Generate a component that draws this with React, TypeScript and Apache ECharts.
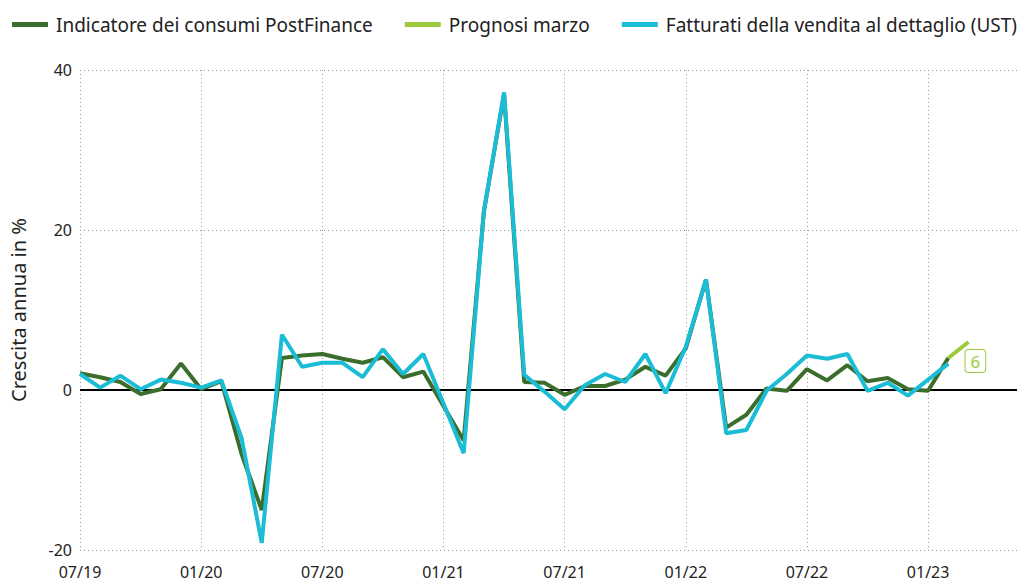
import React, { useEffect, useRef } from "react";
import * as echarts from "echarts";

// Month labels, index 0 = 07/19
const months: string[] = [
  "07/19", "08/19", "09/19", "10/19", "11/19", "12/19",
  "01/20", "02/20", "03/20", "04/20", "05/20", "06/20",
  "07/20", "08/20", "09/20", "10/20", "11/20", "12/20",
  "01/21", "02/21", "03/21", "04/21", "05/21", "06/21",
  "07/21", "08/21", "09/21", "10/21", "11/21", "12/21",
  "01/22", "02/22", "03/22", "04/22", "05/22", "06/22",
  "07/22", "08/22", "09/22", "10/22", "11/22", "12/22",
  "01/23", "02/23", "03/23",
];

const postFinance: number[] = [
  2.1, 1.6, 1.0, -0.5, 0.1, 3.3, 0.1, 1.1, -8.0, -15.0, 4.0, 4.3,
  4.5, 3.9, 3.4, 4.1, 1.6, 2.3, -2.0, -6.3, 22.3, 37.0, 1.0, 0.9,
  -0.6, 0.5, 0.5, 1.3, 2.9, 1.8, 5.2, 13.8, -4.7, -3.1, 0.2, -0.1,
  2.6, 1.2, 3.1, 1.1, 1.5, 0.1, -0.1, 4.0,
];

const ust: number[] = [
  2.0, 0.3, 1.8, 0.1, 1.3, 0.9, 0.3, 1.2, -6.0, -19.1, 6.9, 2.9,
  3.4, 3.4, 1.6, 5.1, 2.0, 4.5, -1.7, -7.9, 22.3, 37.2, 1.9, -0.2,
  -2.4, 0.6, 2.0, 1.0, 4.5, -0.4, 5.4, 13.8, -5.4, -5.0, -0.1, 2.0,
  4.3, 3.9, 4.5, -0.1, 0.9, -0.7, 1.3, 3.3,
];

// Forecast: starts at last indicator value (02/23), ends at March forecast
const forecastStart = 43;
const forecast: number[] = [4.0, 6];

const yTicks = { min: -20, max: 40, interval: 20 };
const xMax = 46.65;

const DARK_GREEN = "#3b6e2c";
const LIGHT_GREEN = "#9dcb3d";
const CYAN = "#1abcd6";
const FONT = "Noto Sans";

function monthLabel(idx: number): string {
  const m0 = 6 + Math.round(idx);
  const year = 19 + Math.floor(m0 / 12);
  const month = (m0 % 12) + 1;
  return `${String(month).padStart(2, "0")}/${year}`;
}

export default function App() {
  const ref = useRef<HTMLDivElement>(null);

  useEffect(() => {
    if (!ref.current) return;
    const chart = echarts.init(ref.current, undefined, { renderer: "svg" });
    const toPairs = (arr: number[], start = 0) => arr.map((v, i) => [start + i, v]);

    chart.setOption({
      animation: false,
      textStyle: { fontFamily: FONT },
      legend: {
        left: 7,
        top: 10,
        icon: "rect",
        itemWidth: 36,
        itemHeight: 5,
        itemGap: 32,
        textStyle: { fontFamily: FONT, fontSize: 19, color: "#222", padding: [0, 0, 0, 3] },
        data: [
          "Indicatore dei consumi PostFinance",
          "Prognosi marzo",
          "Fatturati della vendita al dettaglio (UST)",
        ],
      },
      grid: { left: 80, right: 3, top: 70, bottom: 36, containLabel: false },
      xAxis: {
        type: "value",
        min: 0,
        max: xMax,
        interval: 6,
        axisLine: { show: false },
        axisTick: {
          show: true,
          length: 16,
          lineStyle: { color: "#999", type: [1, 3], width: 1 },
        },
        axisLabel: {
          fontFamily: FONT,
          fontSize: 16,
          color: "#222",
          margin: 14,
          showMaxLabel: false,
          formatter: (v: number) => (Math.abs(v % 6) < 1e-6 ? (months[v] ?? monthLabel(v)) : ""),
        },
        splitLine: {
          show: true,
          showMaxLine: false,
          lineStyle: { color: "#999", type: [1, 3], width: 1 },
        },
      },
      yAxis: {
        type: "value",
        min: yTicks.min,
        max: yTicks.max,
        interval: yTicks.interval,
        name: "Crescita annua in %",
        nameLocation: "middle",
        nameGap: 52,
        nameTextStyle: { fontFamily: FONT, fontSize: 20, color: "#222" },
        axisLine: { show: false },
        axisTick: { show: false },
        axisLabel: { fontFamily: FONT, fontSize: 16, color: "#222", margin: 8 },
        splitLine: { show: true, lineStyle: { color: "#999", type: [1, 3], width: 1 } },
      },
      series: [
        {
          name: "Indicatore dei consumi PostFinance",
          type: "line",
          data: toPairs(postFinance),
          showSymbol: false,
          symbol: "none",
          color: DARK_GREEN,
          lineStyle: { color: DARK_GREEN, width: 4 },
          z: 3,
          markLine: {
            silent: true,
            symbol: "none",
            label: { show: false },
            lineStyle: { color: "#000", type: "solid", width: 2 },
            data: [{ yAxis: 0 }],
            z: 1,
          },
        },
        {
          name: "Prognosi marzo",
          type: "line",
          data: toPairs(forecast, forecastStart),
          showSymbol: false,
          symbol: "none",
          color: LIGHT_GREEN,
          lineStyle: { color: LIGHT_GREEN, width: 4 },
          z: 4,
          endLabel: {
            show: true,
            formatter: (p: any) => String(p.value[1]),
            fontFamily: FONT,
            fontSize: 17,
            color: LIGHT_GREEN,
            backgroundColor: "#fff",
            borderColor: LIGHT_GREEN,
            borderWidth: 1,
            borderRadius: 3,
            padding: [3, 5, 2, 5],
            distance: 0,
            offset: [-3, 19],
          },
        },
        {
          name: "Fatturati della vendita al dettaglio (UST)",
          type: "line",
          data: toPairs(ust),
          showSymbol: false,
          symbol: "none",
          color: CYAN,
          lineStyle: { color: CYAN, width: 4 },
          z: 5,
        },
      ],
    });

    return () => chart.dispose();
  }, []);

  return <div ref={ref} style={{ width: 1025, height: 586, margin: -8 }} />;
}
